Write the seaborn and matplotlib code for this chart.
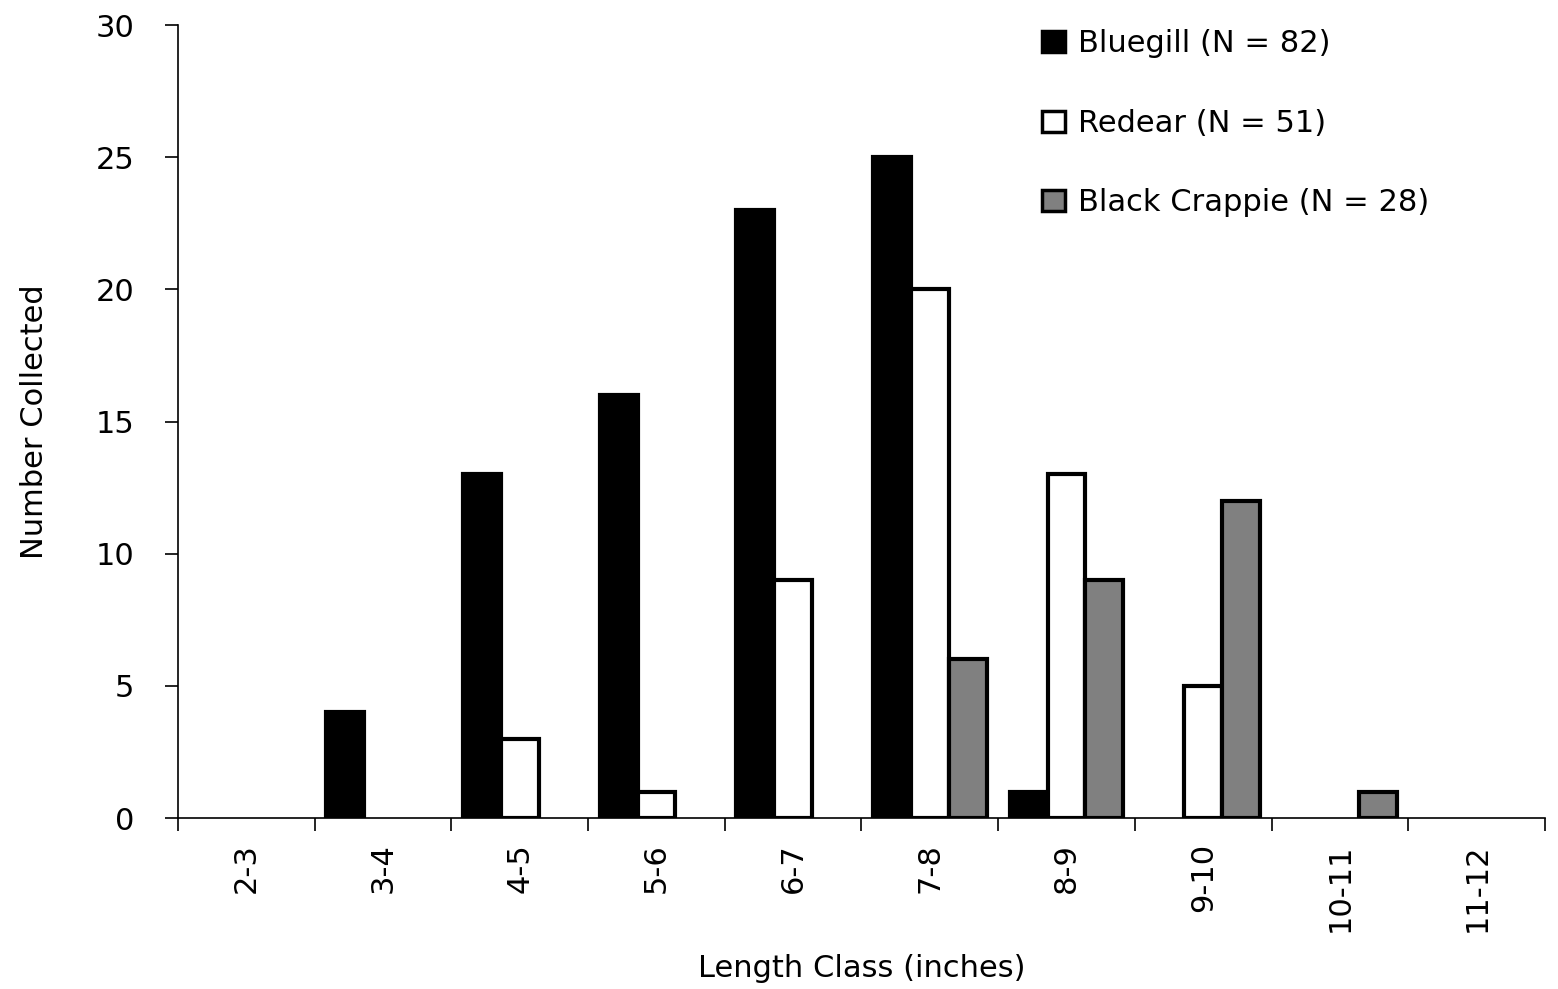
import numpy as np
import pandas as pd
import matplotlib
matplotlib.use("Agg")
import matplotlib.pyplot as plt
from matplotlib.patches import Patch
from matplotlib.ticker import FixedLocator
import seaborn as sns

length_classes = ["2-3", "3-4", "4-5", "5-6", "6-7", "7-8", "8-9", "9-10", "10-11", "11-12"]
bluegill = [0, 4, 13, 16, 23, 25, 1, 0, 0, 0]
redear = [0, 0, 3, 1, 9, 20, 13, 5, 0, 0]
crappie = [0, 0, 0, 0, 0, 6, 9, 12, 1, 0]
species = ["Bluegill (N = 82)", "Redear (N = 51)", "Black Crappie (N = 28)"]
colors = ["#000000", "#ffffff", "#808080"]

df = pd.DataFrame({
    "Length Class": length_classes * 3,
    "Count": bluegill + redear + crappie,
    "Species": np.repeat(species, len(length_classes)),
})

sns.set_style("white")
plt.rcParams["font.family"] = ["DejaVu Sans"]
plt.rcParams["text.color"] = "black"
plt.rcParams["axes.labelcolor"] = "black"
fs = 22

fig = plt.figure(figsize=(15.58, 9.89), dpi=100)
ax = fig.add_axes([0.1142, 0.1729, 0.8775, 0.8018])

sns.barplot(data=df, x="Length Class", y="Count", hue="Species",
            palette=colors, width=0.83, gap=0, edgecolor="black",
            linewidth=3, saturation=1, legend=False, ax=ax)

# hide zero-height bars so their edges don't thicken the axis
for p in ax.patches:
    if p.get_height() == 0:
        p.set_visible(False)

ax.set_ylim(0, 30)
ax.set_xlim(-0.5, len(length_classes) - 0.5)
ax.set_yticks(range(0, 31, 5))
ax.tick_params(axis="y", labelsize=fs, direction="out", length=9.5, width=1.2,
               left=True, pad=22, colors="black")
ax.tick_params(axis="x", which="major", labelsize=fs, length=0, pad=18,
               labelrotation=90, labelcolor="black")
ax.xaxis.set_minor_locator(FixedLocator(np.arange(-0.5, len(length_classes), 1)))
ax.tick_params(axis="x", which="minor", direction="out", length=9, width=1.2,
               bottom=True, color="black")

for s in ["top", "right"]:
    ax.spines[s].set_visible(False)
for s in ["left", "bottom"]:
    ax.spines[s].set_color("black")
    ax.spines[s].set_linewidth(1.2)

ax.set_xlabel("Length Class (inches)", fontsize=fs, labelpad=16)
ax.set_ylabel("Number Collected", fontsize=fs)
ax.yaxis.set_label_coords(-0.094, 0.5)

handles = [Patch(facecolor=c, edgecolor="black", linewidth=2.5) for c in colors]
fig.legend(handles, species, loc="upper left", bbox_to_anchor=(0.651, 0.998),
           frameon=False, fontsize=fs, handlelength=0.75, handleheight=0.7,
           handletextpad=0.45, labelspacing=1.65)

fig.savefig("out.png", dpi=100)
